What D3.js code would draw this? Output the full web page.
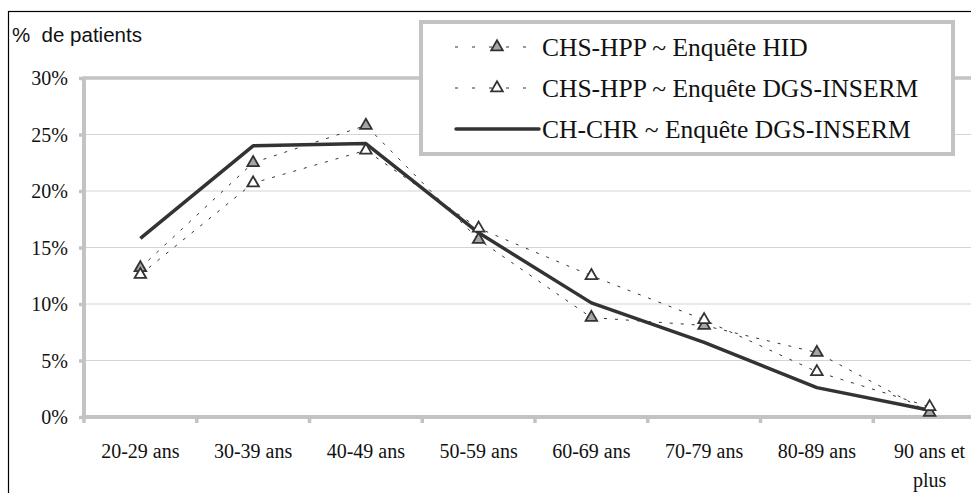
<!DOCTYPE html>
<html>
<head>
<meta charset="utf-8">
<script src="https://cdn.jsdelivr.net/npm/d3@7"></script>
<style>
  body { margin: 0; background: #fff; }
  svg { display: block; }
</style>
</head>
<body>
<svg width="971" height="493"></svg>
<script>
var categories = ["20-29 ans", "30-39 ans", "40-49 ans", "50-59 ans", "60-69 ans", "70-79 ans", "80-89 ans", "90 ans et plus"];
var hidValues = [13.2, 22.5, 25.8, 15.7, 8.8, 8.1, 5.7, 0.4];
var dgsValues = [12.6, 20.7, 23.6, 16.7, 12.5, 8.6, 4.0, 0.9];
var chrValues = [15.8, 24.0, 24.2, 16.3, 10.1, 6.6, 2.6, 0.6];
var yTicks = [0, 5, 10, 15, 20, 25, 30];
var legendLabels = ["CHS-HPP ~ Enquête HID", "CHS-HPP ~ Enquête DGS-INSERM", "CH-CHR ~ Enquête DGS-INSERM"];

var SERIF = "'Liberation Serif', Tinos, 'Times New Roman', 'DejaVu Serif', serif";

var svg = d3.select("svg");

var x = d3.scaleBand().domain(categories).range([84, 986]);
var y = d3.scaleLinear().domain([0, 30]).range([417, 78]);

// outer frame (cut by the window on the right and bottom)
svg.append("rect")
    .attr("x", 8.5).attr("y", 11.5)
    .attr("width", 1000).attr("height", 520)
    .attr("fill", "none").attr("stroke", "#000").attr("stroke-width", 1.2);

svg.append("text")
    .attr("x", 12).attr("y", 42)
    .style("font-family", "'Liberation Sans', Arial, sans-serif")
    .style("font-size", "20.5px")
    .attr("fill", "#111")
    .attr("xml:space", "preserve")
    .text("%  de patients");

// gridlines
svg.append("g").selectAll("line")
    .data(yTicks.filter(function(d) { return d > 0 && d < 30; }))
    .enter().append("line")
    .attr("x1", 84).attr("x2", 990)
    .attr("y1", function(d) { return y(d); })
    .attr("y2", function(d) { return y(d); })
    .attr("stroke", "#d4d4d4").attr("stroke-width", 1.2);

// plot border top
svg.append("line")
    .attr("x1", 84).attr("x2", 990)
    .attr("y1", y(30)).attr("y2", y(30))
    .attr("stroke", "#c3c3c3").attr("stroke-width", 3.5);

// y axis
var yAxis = d3.axisLeft(y).tickValues(yTicks).tickSize(5).tickPadding(11)
    .tickFormat(function(d) { return d + "%"; });
var gy = svg.append("g").attr("transform", "translate(84,0)").call(yAxis);
gy.select(".domain").remove();
gy.selectAll(".tick line").attr("stroke", "#c3c3c3").attr("stroke-width", 3.5);
gy.selectAll(".tick text")
    .style("font-family", SERIF).style("font-size", "20px")
    .attr("fill", "#111").attr("dy", "0.33em");
svg.append("line")
    .attr("x1", 84).attr("x2", 84).attr("y1", y(30) - 1.5).attr("y2", y(0) + 2)
    .attr("stroke", "#c3c3c3").attr("stroke-width", 4);

// x axis
svg.append("line")
    .attr("x1", 82).attr("x2", 990).attr("y1", y(0)).attr("y2", y(0))
    .attr("stroke", "#c3c3c3").attr("stroke-width", 4);
svg.append("g").selectAll("line")
    .data(categories)
    .enter().append("line")
    .attr("x1", function(d) { return x(d); })
    .attr("x2", function(d) { return x(d); })
    .attr("y1", y(0)).attr("y2", y(0) + 6)
    .attr("stroke", "#c3c3c3").attr("stroke-width", 3.5);

var labels = svg.append("g").selectAll("text")
    .data(categories)
    .enter().append("text")
    .style("font-family", SERIF)
    .style("font-size", "20px")
    .attr("fill", "#111")
    .attr("text-anchor", "middle")
    .attr("x", function(d) { return x(d) + x.bandwidth() / 2; })
    .attr("y", 458);
labels.each(function(d) {
    var t = d3.select(this);
    if (d === "90 ans et plus") {
        t.append("tspan").attr("x", x(d) + x.bandwidth() / 2).text("90 ans et");
        t.append("tspan").attr("x", x(d) + x.bandwidth() / 2).attr("dy", 29).text("plus");
    } else {
        t.text(d);
    }
});

var line = d3.line()
    .x(function(d, i) { return x(categories[i]) + x.bandwidth() / 2; })
    .y(function(d) { return y(d); });

function dashed(values) {
    svg.append("path")
        .datum(values)
        .attr("d", line)
        .attr("fill", "none")
        .attr("stroke", "#333")
        .attr("stroke-width", 1)
        .attr("stroke-dasharray", "3,8");
}
dashed(hidValues);
dashed(dgsValues);

svg.append("path")
    .datum(chrValues)
    .attr("d", line)
    .attr("fill", "none")
    .attr("stroke", "#333")
    .attr("stroke-width", 3.5)
    .attr("stroke-linejoin", "round");

var tri = d3.symbol().type(d3.symbolTriangle).size(58);

function markers(values, fill) {
    svg.append("g").selectAll("path")
        .data(values)
        .enter().append("path")
        .attr("d", tri)
        .attr("transform", function(d, i) {
            return "translate(" + (x(categories[i]) + x.bandwidth() / 2) + "," + y(d) + ")";
        })
        .attr("fill", fill)
        .attr("stroke", "#333")
        .attr("stroke-width", 1.8);
}
markers(hidValues, "#a6a6a6");
markers(dgsValues, "#fff");

// legend
var legend = svg.append("g");
legend.append("rect")
    .attr("x", 421).attr("y", 22)
    .attr("width", 532).attr("height", 132)
    .attr("fill", "#fff").attr("stroke", "#c3c3c3").attr("stroke-width", 4);

var rowsY = [47, 88, 129];
legendLabels.forEach(function(label, i) {
    var ly = rowsY[i];
    if (i < 2) {
        legend.append("line")
            .attr("x1", 455).attr("x2", 540).attr("y1", ly).attr("y2", ly)
            .attr("stroke", "#333").attr("stroke-width", 1)
            .attr("stroke-dasharray", "3,14");
        legend.append("path")
            .attr("d", tri)
            .attr("transform", "translate(497," + ly + ")")
            .attr("fill", i === 0 ? "#a6a6a6" : "#fff")
            .attr("stroke", "#333").attr("stroke-width", 1.8);
    } else {
        legend.append("line")
            .attr("x1", 456).attr("x2", 539).attr("y1", ly).attr("y2", ly)
            .attr("stroke", "#333").attr("stroke-width", 3.5)
            .attr("stroke-linecap", "round");
    }
    legend.append("text")
        .style("font-family", SERIF)
        .style("font-size", "25.5px")
        .attr("fill", "#111")
        .attr("x", 542).attr("y", ly + 8.5)
        .text(label);
});
</script>
</body>
</html>
